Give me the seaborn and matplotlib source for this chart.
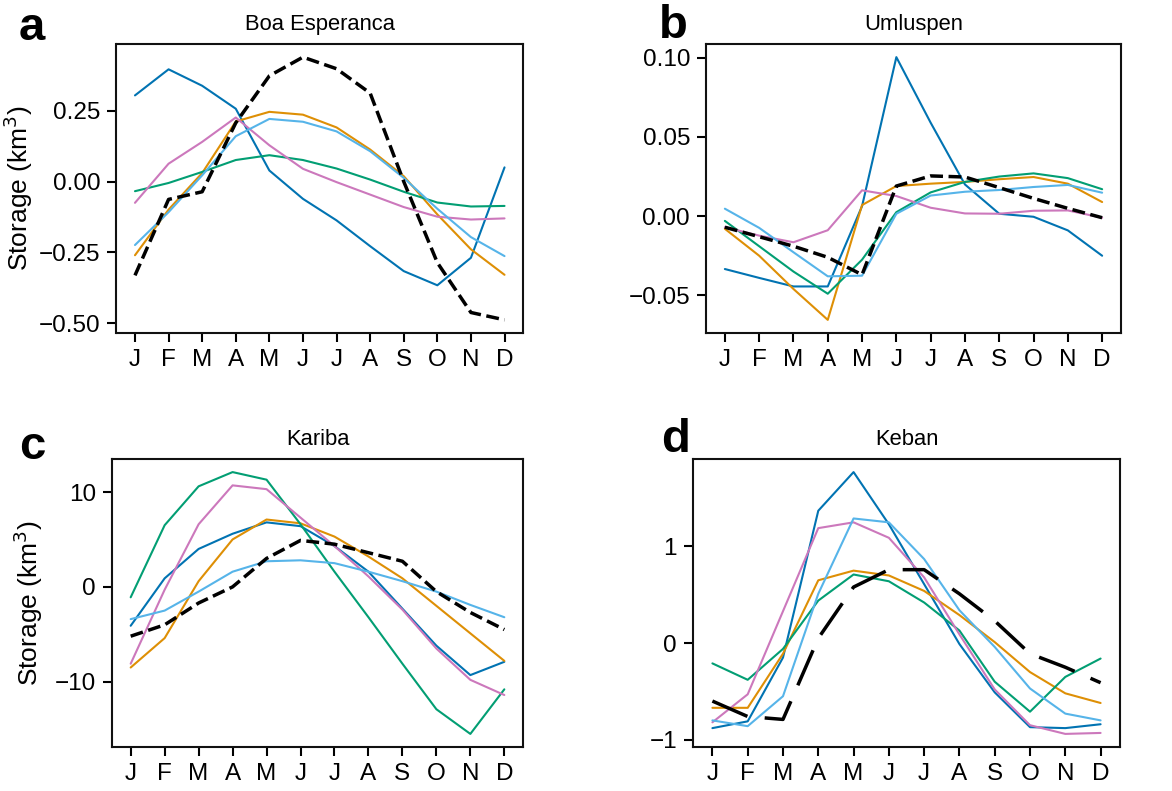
import matplotlib
matplotlib.use("Agg")
import matplotlib.pyplot as plt
import seaborn as sns
import numpy as np
import pandas as pd

months = ["J", "F", "M", "A", "M", "J", "J", "A", "S", "O", "N", "D"]
series_names = ["blue", "orange", "green", "pink", "lightblue", "obs"]
colors = ["#0173b2", "#de8f05", "#029e73", "#cc78bc", "#56b4e9", "black"]

# Panel a: Boa Esperanca
a_blue = [0.304, 0.396, 0.338, 0.257, 0.039, -0.061, -0.137, -0.228, -0.316, -0.366, -0.269, 0.050]
a_orange = [-0.260, -0.099, 0.030, 0.212, 0.246, 0.236, 0.191, 0.113, 0.019, -0.116, -0.239, -0.329]
a_green = [-0.034, -0.005, 0.034, 0.076, 0.093, 0.076, 0.046, 0.007, -0.036, -0.074, -0.088, -0.086]
a_pink = [-0.075, 0.063, 0.140, 0.226, 0.128, 0.045, -0.002, -0.046, -0.090, -0.124, -0.134, -0.130]
a_lightblue = [-0.224, -0.108, 0.022, 0.160, 0.221, 0.211, 0.177, 0.107, 0.013, -0.096, -0.196, -0.263]
a_obs = [-0.331, -0.063, -0.036, 0.207, 0.373, 0.439, 0.398, 0.312, 0.000, -0.286, -0.462, -0.488]

# Panel b: Umluspen
b_blue = [-0.0334, -0.0390, -0.0444, -0.0444, 0.0063, 0.1004, 0.0590, 0.0200, 0.0015, -0.0004, -0.0090, -0.0250]
b_orange = [-0.0080, -0.0250, -0.0460, -0.0655, 0.0070, 0.0190, 0.0205, 0.0216, 0.0233, 0.0247, 0.0205, 0.0089]
b_green = [-0.0030, -0.0190, -0.0350, -0.0490, -0.0275, 0.0025, 0.0150, 0.0216, 0.0250, 0.0270, 0.0240, 0.0170]
b_pink = [-0.0070, -0.0123, -0.0165, -0.0089, 0.0163, 0.0127, 0.0053, 0.0017, 0.0015, 0.0034, 0.0036, -0.0010]
b_lightblue = [0.0047, -0.0074, -0.0228, -0.0380, -0.0376, 0.0015, 0.0130, 0.0154, 0.0165, 0.0184, 0.0197, 0.0148]
b_obs = [-0.0070, -0.0130, -0.0190, -0.0260, -0.0370, 0.0190, 0.0254, 0.0247, 0.0180, 0.0112, 0.0049, -0.0010]

# Panel c: Kariba
c_blue = [-4.1, 0.9, 4.0, 5.6, 6.8, 6.4, 4.3, 1.6, -2.3, -6.2, -9.3, -7.9]
c_orange = [-8.5, -5.4, 0.6, 5.0, 7.1, 6.7, 5.3, 3.2, 0.9, -2.0, -4.9, -7.8]
c_green = [-1.1, 6.5, 10.6, 12.1, 11.3, 6.6, 1.6, -3.2, -8.1, -12.9, -15.5, -10.8]
c_pink = [-8.1, -0.3, 6.6, 10.7, 10.3, 7.3, 4.3, 1.1, -2.4, -6.5, -9.8, -11.4]
c_lightblue = [-3.4, -2.5, -0.5, 1.6, 2.7, 2.8, 2.5, 1.6, 0.6, -0.5, -1.9, -3.2]
c_obs = [-5.2, -4.0, -1.7, 0.0, 3.0, 4.9, 4.5, 3.6, 2.7, -0.5, -2.7, -4.5]

# Panel d: Keban
d_blue = [-0.88, -0.81, -0.15, 1.37, 1.77, 1.23, 0.61, -0.01, -0.51, -0.87, -0.88, -0.84]
d_orange = [-0.67, -0.67, -0.11, 0.65, 0.75, 0.70, 0.54, 0.29, 0.01, -0.30, -0.52, -0.62]
d_green = [-0.21, -0.38, -0.06, 0.44, 0.71, 0.64, 0.42, 0.13, -0.40, -0.71, -0.35, -0.16]
d_pink = [-0.82, -0.53, 0.33, 1.19, 1.25, 1.09, 0.68, 0.09, -0.48, -0.85, -0.94, -0.93]
d_lightblue = [-0.80, -0.86, -0.55, 0.51, 1.29, 1.25, 0.87, 0.34, -0.04, -0.47, -0.73, -0.80]
d_obs = [-0.60, -0.76, -0.79, 0.05, 0.58, 0.76, 0.76, 0.51, 0.23, -0.11, -0.25, -0.41]

panels = [
    dict(letter="a", title="Boa Esperanca",
         data=[a_blue, a_orange, a_green, a_pink, a_lightblue, a_obs],
         yticks=[0.25, 0.0, -0.25, -0.5], fmt="{:.2f}", ylabel=True),
    dict(letter="b", title="Umluspen",
         data=[b_blue, b_orange, b_green, b_pink, b_lightblue, b_obs],
         yticks=[0.10, 0.05, 0.0, -0.05], fmt="{:.2f}", ylabel=False),
    dict(letter="c", title="Kariba",
         data=[c_blue, c_orange, c_green, c_pink, c_lightblue, c_obs],
         yticks=[10, 0, -10], fmt="{:.0f}", ylabel=True),
    dict(letter="d", title="Keban",
         data=[d_blue, d_orange, d_green, d_pink, d_lightblue, d_obs],
         yticks=[1, 0, -1], fmt="{:.0f}", ylabel=False),
]

sns.set_style("ticks")
plt.rcParams["font.family"] = ["Liberation Sans", "DejaVu Sans"]
plt.rcParams["axes.unicode_minus"] = True
plt.rcParams["text.color"] = "black"

W, H = 1172, 791
fig = plt.figure(figsize=(W / 100, H / 100), dpi=100)

# axes boxes in pixels: left, right, top, bottom
boxes = [(116.5, 523, 44, 333), (706, 1121, 44, 333),
         (112, 523, 459, 747), (693, 1120, 459, 747)]
letter_pos = [(32, 28), (673, 26), (32, 447), (676, 440)]
ylabel_x = [-0.200, None, -0.162, None]

for i, (p, box) in enumerate(zip(panels, boxes)):
    l, r, t, b = box
    ax = fig.add_axes([l / W, 1 - b / H, (r - l) / W, (b - t) / H])
    x = np.arange(12)
    for k, (name, col, vals) in enumerate(zip(series_names, colors, p["data"])):
        df = pd.DataFrame({"month": x, "storage": vals})
        if name == "obs":
            sns.lineplot(data=df, x="month", y="storage", ax=ax, color=col,
                         linewidth=2.5, linestyle="--", zorder=5)
            if p["letter"] == "d":
                ax.lines[-1].set_dashes((11, 5))
        else:
            sns.lineplot(data=df, x="month", y="storage", ax=ax, color=col,
                         linewidth=1.5)
    ax.set_xticks(x)
    ax.set_xticklabels(months)
    ax.set_yticks(p["yticks"])
    ax.set_yticklabels([p["fmt"].format(v).replace("-", "\u2212") for v in p["yticks"]])
    ax.set_xlabel("")
    if p["ylabel"]:
        ax.set_ylabel("Storage (km$^3$)", fontsize=19, color="black")
        ax.yaxis.set_label_coords(ylabel_x[i], 0.5)
    else:
        ax.set_ylabel("")
    ax.tick_params(axis="both", labelsize=17.5, length=6.5, width=1.5,
                   color="black", labelcolor="black", direction="out", pad=5)
    for s in ax.spines.values():
        s.set_linewidth(1.5)
        s.set_color("#111111")
        s.set_visible(True)
    ax.set_title(p["title"], fontsize=15.8, pad=10, color="black")
    lx, ly = letter_pos[i]
    fig.text(lx / W, 1 - ly / H, p["letter"], fontsize=34, fontweight="bold",
             ha="center", va="center", color="black")

fig.savefig("out.png", dpi=100, facecolor="white")
